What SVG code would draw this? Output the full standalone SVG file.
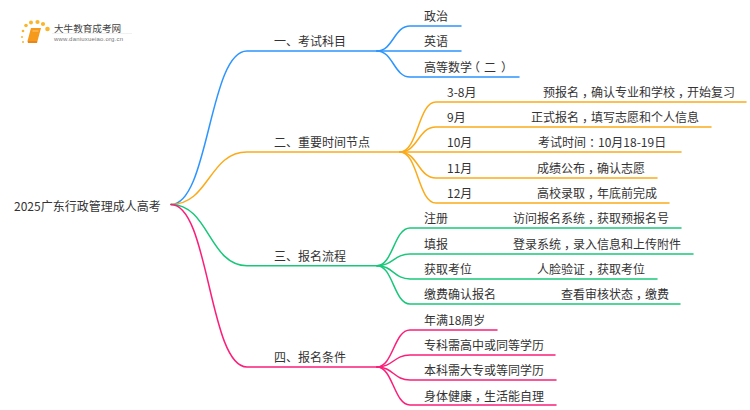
<svg xmlns="http://www.w3.org/2000/svg" width="750" height="410" viewBox="0 0 750 410">
<style>
text{font-family:"Noto Sans CJK SC","Noto Sans",sans-serif;font-size:12px;fill:#333}
.c{fill:none;stroke-width:1.5;stroke-linecap:round}
.b{stroke:#2d95ff}.o{stroke:#fbab19}.g{stroke:#18c77a}.p{stroke:#fb1f79}
.d{fill:#f9b62c;stroke:none}
</style>
<rect width="750" height="410" fill="#fff"/>
<g id="logo">
<circle class="d" cx="23" cy="31" r="1.3"/><circle class="d" cx="26" cy="25.500" r="1.800"/><circle class="d" cx="31" cy="22.500" r="2"/><circle class="d" cx="37.500" cy="22" r="2.100"/><circle class="d" cx="43" cy="24" r="2.100"/><circle class="d" cx="47.500" cy="29" r="2.300"/><circle class="d" cx="22" cy="37" r="1"/><circle class="d" cx="23" cy="42" r="1"/>
<path d="M31 28H41L37.500 41H27.500Z" fill="#f59a1c"/><path d="M27.500 41H37.500L37 43H28Z" fill="#e9861a"/><path d="M32.500 31H38.500" stroke="#fbd58a" stroke-width="0.800"/>
<text x="54" y="32" style="font-size:9.600px;fill:#444">大牛教育成考网</text>
<path d="M52 33.500H132" stroke="#eee" stroke-width="0.800"/>
<text x="54" y="41" style="font-size:6px;fill:#777;font-family:'Liberation Sans',sans-serif" textLength="69">www.daniuxueiao.org.cn</text>
</g>
<g id="connectors">
<path class="c b" d="M171 204.500C209 204.500 209 51 247 51H377"/>
<path class="c o" d="M171 204.500C209 204.500 209 152 247 152H400"/>
<path class="c g" d="M171 204.500C209 204.500 209 265.700 247 265.700H377"/>
<path class="c p" d="M171 204.500C209 204.500 209 367 247 367H377"/>
<path class="c b" d="M377 51C393 51 394 26 410 26H461"/>
<path class="c b" d="M377 51H461"/>
<path class="c b" d="M377 51C393 51 394 77 410 77H519"/>
<path class="c o" d="M400 152C418 152 418 102 436 102H746"/>
<path class="c o" d="M400 152C418 152 418 127 436 127H711"/>
<path class="c o" d="M400 152H681"/>
<path class="c o" d="M400 152C418 152 418 178 436 178H657"/>
<path class="c o" d="M400 152C418 152 418 203 436 203H669"/>
<path class="c g" d="M377 265.700C393 265.700 394 228 410 228H681"/>
<path class="c g" d="M377 265.700C393 265.700 394 254 410 254H693"/>
<path class="c g" d="M377 265.700C393 265.700 394 279 410 279H657"/>
<path class="c g" d="M377 265.700C393 265.700 394 304 410 304H680"/>
<path class="c p" d="M377 367C393 367 394 330 410 330H497"/>
<path class="c p" d="M377 367C393 367 394 355 410 355H555"/>
<path class="c p" d="M377 367C393 367 394 380 410 380H556"/>
<path class="c p" d="M377 367C393 367 394 405 410 405H556"/>
</g>
<g id="root"><text x="14" y="211">2025广东行政管理成人高考</text></g>
<g id="n1"><text x="274" y="46">一、考试科目</text></g>
<g id="n2"><text x="274" y="147">二、重要时间节点</text></g>
<g id="n3"><text x="274" y="261">三、报名流程</text></g>
<g id="n4"><text x="274" y="362">四、报名条件</text></g>
<g id="l1"><text x="424" y="20.500">政治</text></g>
<g id="l2"><text x="424" y="46">英语</text></g>
<g id="l3"><text x="424" y="72">高等数学<tspan dx="-4">（</tspan><tspan dx="4">二</tspan><tspan dx="5">）</tspan></text></g>
<g id="t1"><text x="447" y="97">3-8月</text><text x="543" y="97">预报名<tspan dx="3">，</tspan><tspan dx="-3">确认专业和学校</tspan><tspan dx="3">，</tspan><tspan dx="-3">开始复习</tspan></text></g>
<g id="t2"><text x="447" y="122">9月</text><text x="531" y="122">正式报名<tspan dx="3">，</tspan><tspan dx="-3">填写志愿和个人信息</tspan></text></g>
<g id="t3"><text x="447" y="147">10月</text><text x="538" y="147">考试时间<tspan dx="3">：</tspan><tspan dx="-3">10月18-19日</tspan></text></g>
<g id="t4"><text x="447" y="173">11月</text><text x="537" y="173">成绩公布<tspan dx="3">，</tspan><tspan dx="-3">确认志愿</tspan></text></g>
<g id="t5"><text x="447" y="198">12月</text><text x="537" y="198">高校录取<tspan dx="3">，</tspan><tspan dx="-3">年底前完成</tspan></text></g>
<g id="r1"><text x="424" y="223">注册</text><text x="513" y="223">访问报名系统<tspan dx="3">，</tspan><tspan dx="-3">获取预报名号</tspan></text></g>
<g id="r2"><text x="424" y="249">填报</text><text x="513" y="249">登录系统<tspan dx="3">，</tspan><tspan dx="-3">录入信息和上传附件</tspan></text></g>
<g id="r3"><text x="424" y="274">获取考位</text><text x="537" y="274">人脸验证<tspan dx="3">，</tspan><tspan dx="-3">获取考位</tspan></text></g>
<g id="r4"><text x="424" y="299">缴费确认报名</text><text x="561" y="299">查看审核状态<tspan dx="3">，</tspan><tspan dx="-3">缴费</tspan></text></g>
<g id="c1"><text x="424" y="325">年满18周岁</text></g>
<g id="c2"><text x="424" y="350">专科需高中或同等学历</text></g>
<g id="c3"><text x="424" y="375">本科需大专或等同学历</text></g>
<g id="c4"><text x="424" y="401">身体健康<tspan dx="3">，</tspan><tspan dx="-3">生活能自理</tspan></text></g>
</svg>
